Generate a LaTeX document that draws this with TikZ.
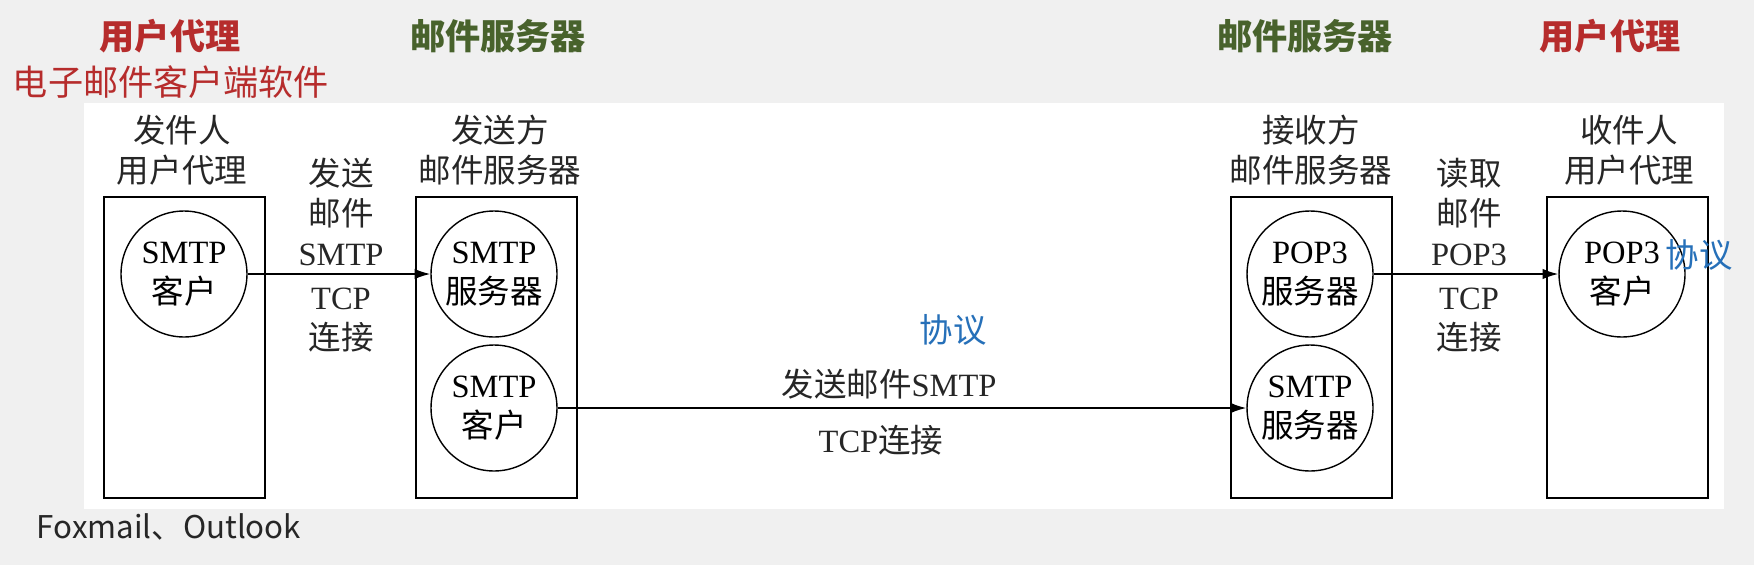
\documentclass[tikz,border=0pt]{standalone}
\usepackage{fontspec}
\setmainfont{Liberation Serif}
\newfontfamily\cjk{Noto Sans CJK SC}
\usetikzlibrary{arrows.meta}

\definecolor{agentred}{RGB}{182,44,44}
\definecolor{servergreen}{RGB}{72,98,44}
\definecolor{protoblue}{RGB}{38,112,185}
\definecolor{slidegray}{RGB}{240,240,240}

\tikzset{
  hostbox/.style={draw, line width=1.6pt, minimum width=3.22cm, minimum height=6.02cm, inner sep=0pt},
  proc/.style={circle, draw, line width=0.8pt, minimum size=2.52cm, inner sep=0pt, align=center,
    font=\fontsize{18.5}{22.8}\selectfont},
  lbl/.style={align=center, text=black!85, font=\fontsize{18.5}{22.8}\selectfont},
  cjklbl/.style={lbl, font=\cjk\fontsize{18.5}{22.8}\selectfont},
  head/.style={font=\cjk\bfseries\fontsize{20}{24}\selectfont},
  proto/.style={text=protoblue, font=\cjk\fontsize{19}{24}\selectfont},
  msg/.style={-{Latex[length=9pt,width=6pt]}, line width=1pt},
}

\begin{document}
\begin{tikzpicture}[x=0.02cm, y=-0.02cm]
\useasboundingbox (0,0) rectangle (1754,565);
\fill[slidegray] (0,0) rectangle (1754,565);
\fill[white] (84,103) rectangle (1724,509);

% headings on the slide
\node[head, text=agentred] (uahead1) at (170,36) {用户代理};
\node[text=agentred, font=\cjk\fontsize{20}{24}\selectfont] (uasoft) at (171,82) {电子邮件客户端软件};
\node[head, text=servergreen] (mshead1) at (498,36) {邮件服务器};
\node[head, text=servergreen] (mshead2) at (1305,36) {邮件服务器};
\node[head, text=agentred] (uahead2) at (1610,36) {用户代理};

% the four hosts
\node[hostbox] (ua1) at (184.5,347.5) {};
\node[hostbox] (ms1) at (496.5,347.5) {};
\node[hostbox] (ms2) at (1311.5,347.5) {};
\node[hostbox] (ua2) at (1627.5,347.5) {};

\node[cjklbl] (ua1lbl) at (182,150) {发件人\\用户代理};
\node[cjklbl] (ms1lbl) at (500,150) {发送方\\邮件服务器};
\node[cjklbl] (ms2lbl) at (1311,150) {接收方\\邮件服务器};
\node[cjklbl] (ua2lbl) at (1629,150) {收件人\\用户代理};

% processes
\node[proc] (smtpc1) at (184,274) {SMTP\\{\cjk 客户}};
\node[proc] (smtps1) at (494,274) {SMTP\\{\cjk 服务器}};
\node[proc] (smtpc2) at (494,408) {SMTP\\{\cjk 客户}};
\node[proc] (pop3s) at (1310,274) {POP3\\{\cjk 服务器}};
\node[proc] (smtps2) at (1310,408) {SMTP\\{\cjk 服务器}};
\node[proc] (pop3c) at (1622,274) {POP3\\{\cjk 客户}};

\draw[msg] (smtpc1) -- (smtps1);
\draw[msg] (smtpc2) -- (smtps2);
\draw[msg] (pop3s) -- (pop3c);

% connection labels
\node[lbl] (sendlbl) at (341,212) {{\cjk 发送}\\{\cjk 邮件}\\SMTP};
\node[lbl] (tcplbl1) at (341,320) {TCP\\{\cjk 连接}};
\node[lbl] (readlbl) at (1469,212) {{\cjk 读取}\\{\cjk 邮件}\\POP3};
\node[lbl] (tcplbl2) at (1469,320) {TCP\\{\cjk 连接}};
\node[lbl] (relaylbl) at (889,384) {{\cjk 发送邮件}SMTP};
\node[lbl] (tcplbl3) at (881,440) {TCP{\cjk 连接}};

\node[proto] (proto1) at (953,330) {协议};
\node[proto] (proto2) at (1699,255) {协议};

\node[text=black!85, font=\cjk\fontsize{17.8}{22}\selectfont] (clients) at (169,527) {Foxmail、Outlook};
\end{tikzpicture}
\end{document}
